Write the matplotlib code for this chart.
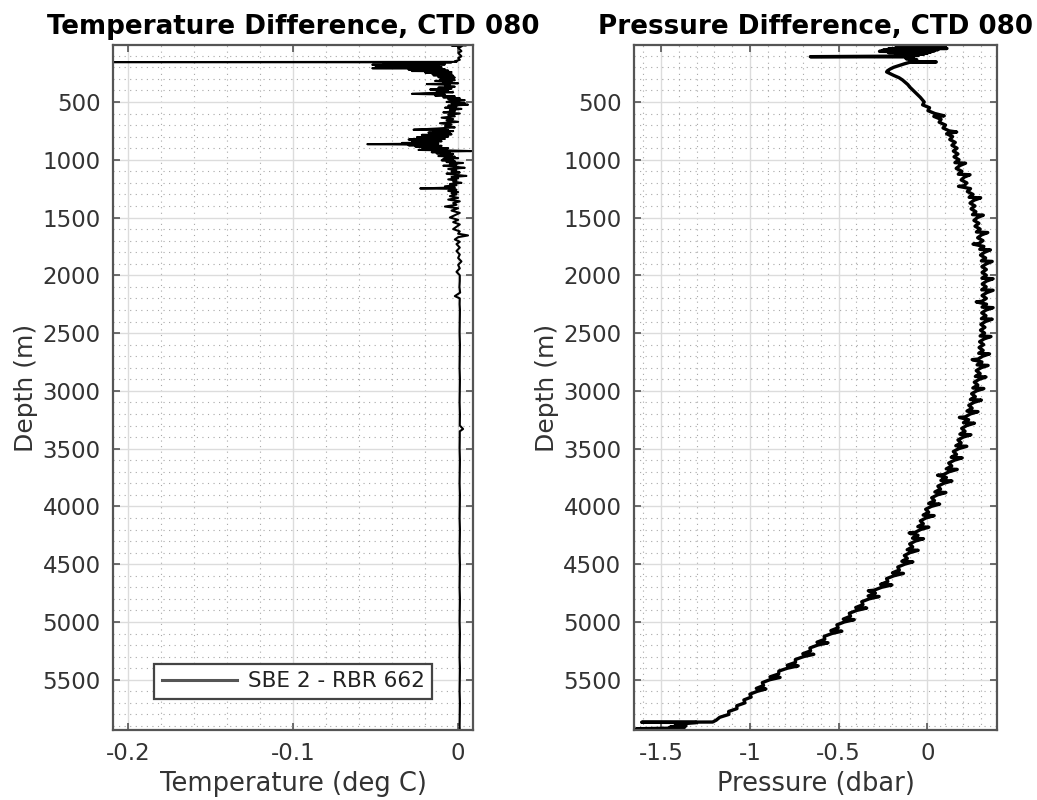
import matplotlib
matplotlib.use("Agg")
import matplotlib.pyplot as plt
from matplotlib.ticker import MultipleLocator, FixedLocator
import numpy as np

plt.rcParams['font.family'] = ['DejaVu Sans']
plt.rcParams['axes.unicode_minus'] = False

# ---------------- Temperature difference (SBE 2 - RBR 662), deg C ----------------
temp_depth = (
    [7, 9, 11, 13, 20, 30, 45, 60, 75, 90, 105, 120, 135, 148, 153, 155, 157]
    + [160, 163, 166, 169, 172, 175, 178, 181, 184, 187, 190, 193, 196, 199, 202, 205,
       208, 211, 214, 217, 220, 223, 226, 229, 232, 235, 238, 241, 245, 249, 253, 257,
       261, 265, 269, 273, 277, 281, 285, 289, 294, 299, 305, 311, 318, 324, 331, 338,
       345, 352, 360, 368, 376, 384, 392, 400, 408, 416, 424, 430, 436, 444, 452, 460,
       468, 476, 484, 492, 500]
    + [508, 516, 524, 532, 540, 550, 560, 570, 580, 590, 600, 612, 624, 636, 648, 660,
       672, 684, 696, 708, 720, 730]
    + [740, 744, 748, 752, 756, 760, 765, 770, 775, 780, 785, 790, 795, 800, 805, 810,
       815, 820, 825, 830, 835, 840, 845, 850, 855, 860, 865, 870, 875, 880, 885, 890,
       895, 900, 905, 910, 915, 920, 925, 930, 935, 940, 945, 950, 956, 962, 968, 974,
       980, 986, 992, 998]
    + [1005, 1012, 1020, 1028, 1036, 1044, 1052, 1060, 1070, 1080, 1090, 1100, 1110,
       1120, 1130, 1140, 1150, 1160, 1170, 1180, 1190, 1200, 1210, 1220, 1230, 1240,
       1248, 1252, 1260, 1270, 1280, 1290, 1300, 1315]
    + [1330, 1345, 1360, 1375, 1390, 1405, 1420, 1440, 1460, 1480, 1500, 1520, 1540,
       1560, 1580, 1600, 1620, 1640, 1655, 1670, 1690, 1710, 1730, 1760, 1790, 1820,
       1850, 1880, 1910, 1940, 1970, 2000]
    + [2050, 2100, 2150, 2180, 2200, 2250, 2300, 2400, 2500, 2600, 2700, 2800, 2900,
       3000, 3100, 3200, 3300, 3330, 3350, 3400, 3500, 3600, 3700, 3800, 3900, 4000,
       4100, 4200, 4300, 4400, 4500, 4600, 4700, 4800, 4900, 5000, 5100, 5200, 5300,
       5400, 5500, 5600, 5700, 5800, 5900, 5935]
)
temp_diff = (
    [0.001, 0.005, -0.004, 0.001, 0.002, 0.000, 0.001, 0.002, 0.000, 0.001, 0.002,
     0.000, 0.001, -0.002, -0.001, -0.209, -0.004]
    + [-0.030, -0.010, -0.045, -0.015, -0.038, -0.008, -0.052, -0.020, -0.030, -0.012,
       -0.050, -0.018, -0.028, -0.010, -0.035, -0.015, -0.052, -0.012, -0.025, -0.008,
       -0.030, -0.015, -0.022, -0.006, -0.028, -0.010, -0.018, -0.004, -0.020, -0.008,
       -0.016, -0.004, -0.013, -0.006, -0.015, -0.003, -0.010, -0.005, -0.012, -0.002,
       -0.009, -0.004, -0.011, -0.002, -0.014, -0.004, -0.009, 0.000, -0.019, -0.005,
       -0.008, -0.002, -0.012, -0.004, -0.017, -0.006, -0.013, -0.003, -0.020, -0.028,
       -0.008, -0.014, -0.002, -0.009, 0.001, -0.006, 0.004, -0.003, -0.007]
    + [0.004, -0.004, 0.006, -0.006, -0.001, -0.008, 0.002, -0.005, -0.002, -0.009,
       0.001, -0.006, -0.002, -0.010, -0.003, -0.007, 0.000, -0.011, -0.004, -0.008,
       -0.002, -0.013]
    + [-0.027, -0.006, -0.015, -0.003, -0.012, -0.005, -0.018, -0.008, -0.014, -0.004,
       -0.022, -0.010, -0.016, -0.006, -0.025, -0.012, -0.018, -0.008, -0.030, -0.014,
       -0.020, -0.010, -0.028, -0.016, -0.034, -0.012, -0.055, -0.020, -0.030, -0.010,
       -0.026, -0.015, -0.022, -0.006, -0.018, -0.010, -0.024, -0.004, 0.008, -0.012,
       -0.016, -0.005, -0.013, -0.003, -0.010, -0.004, -0.012, -0.002, -0.008, 0.000,
       -0.009, -0.003]
    + [-0.010, -0.002, -0.007, 0.003, -0.005, -0.001, -0.009, -0.002, 0.004, -0.006,
       -0.001, -0.004, 0.001, -0.007, -0.002, 0.005, -0.004, 0.000, -0.006, -0.001,
       -0.003, 0.002, -0.005, -0.001, -0.008, -0.002, -0.023, -0.003, -0.001, -0.006,
       0.000, -0.004, -0.001, -0.005]
    + [0.000, -0.006, 0.001, -0.003, -0.001, -0.008, 0.000, -0.004, 0.001, -0.002,
       -0.005, 0.000, -0.003, 0.001, -0.001, -0.003, 0.001, 0.000, 0.006, 0.000,
       -0.002, 0.001, -0.001, 0.001, -0.001, 0.001, 0.000, 0.002, 0.000, 0.001,
       -0.001, 0.001]
    + [0.001, 0.0008, 0.0012, -0.002, 0.001, 0.0009, 0.0011, 0.001, 0.0009, 0.0011,
       0.001, 0.0009, 0.0011, 0.001, 0.0009, 0.0011, 0.001, 0.003, 0.001, 0.001,
       0.0009, 0.0011, 0.001, 0.0009, 0.0011, 0.001, 0.0009, 0.0011, 0.001, 0.0009,
       0.0011, 0.001, 0.0009, 0.0011, 0.001, 0.0009, 0.0011, 0.001, 0.0009, 0.0011,
       0.001, 0.0009, 0.0011, 0.001, 0.0009, 0.001]
)

# ---------------- Pressure difference, dbar ----------------
# near-surface part of the cast
pres_top_depth = [7, 12, 17, 22, 27, 32, 37, 42, 47, 52, 57, 62, 67, 72, 77, 82, 87, 92,
                  97, 103, 108, 110, 118, 126, 134, 142, 150, 154, 157, 170, 185, 200,
                  215, 230, 240, 255, 270, 290, 310, 330, 350, 370, 400, 430, 460]
pres_top_diff = [0.05, -0.05, 0.10, -0.12, 0.08, -0.18, 0.11, -0.22, 0.06, -0.25, 0.04,
                 -0.27, 0.02, -0.22, 0.00, -0.18, -0.02, -0.15, -0.05, -0.12, -0.66,
                 -0.10, -0.08, -0.12, -0.06, -0.10, -0.08, 0.05, -0.10, -0.13, -0.16,
                 -0.19, -0.21, -0.225, -0.23, -0.21, -0.19, -0.16, -0.14, -0.125, -0.11,
                 -0.10, -0.08, -0.06, -0.04]

# 25 m bins from 500 m to 5850 m
pres_bin_depth = np.arange(500, 5851, 25)
pres_bin_diff = [
    -0.018, -0.027, 0.012, 0.003, 0.042, 0.036, 0.077, 0.066, 0.102, 0.088,
    0.122, 0.108, 0.142, 0.126, 0.157, 0.138, 0.167, 0.146, 0.172, 0.150,
    0.178, 0.155, 0.183, 0.162, 0.194, 0.174, 0.208, 0.190, 0.222, 0.207,
    0.243, 0.225, 0.257, 0.235, 0.263, 0.240, 0.268, 0.246, 0.273, 0.254,
    0.282, 0.262, 0.290, 0.268, 0.297, 0.276, 0.305, 0.283, 0.313, 0.290,
    0.318, 0.295, 0.323, 0.299, 0.328, 0.304, 0.333, 0.307, 0.332, 0.308,
    0.332, 0.307, 0.333, 0.309, 0.331, 0.306, 0.334, 0.308, 0.332, 0.307,
    0.333, 0.308, 0.331, 0.306, 0.330, 0.304, 0.327, 0.301, 0.324, 0.299,
    0.322, 0.297, 0.320, 0.294, 0.317, 0.291, 0.314, 0.289, 0.312, 0.285,
    0.307, 0.280, 0.302, 0.275, 0.297, 0.270, 0.292, 0.264, 0.284, 0.256,
    0.277, 0.249, 0.270, 0.242, 0.262, 0.233, 0.252, 0.223, 0.242, 0.213,
    0.232, 0.203, 0.222, 0.193, 0.212, 0.183, 0.202, 0.172, 0.190, 0.160,
    0.177, 0.146, 0.164, 0.134, 0.152, 0.120, 0.137, 0.106, 0.122, 0.090,
    0.107, 0.076, 0.092, 0.059, 0.074, 0.042, 0.057, 0.024, 0.040, 0.007,
    0.022, -0.010, 0.007, -0.024, -0.008, -0.040, -0.023, -0.054, -0.038, -0.070,
    -0.053, -0.084, -0.068, -0.100, -0.083, -0.114, -0.098, -0.130, -0.113, -0.144,
    -0.128, -0.167, -0.158, -0.197, -0.188, -0.230, -0.223, -0.264, -0.258, -0.300,
    -0.293, -0.334, -0.328, -0.370, -0.363, -0.404, -0.398, -0.440, -0.433, -0.474,
    -0.468, -0.510, -0.503, -0.544, -0.538, -0.582, -0.578, -0.622, -0.618, -0.662,
    -0.658, -0.702, -0.698, -0.744, -0.743, -0.790, -0.788, -0.837, -0.838, -0.887,
    -0.888, -0.930, -0.923, -0.964, -0.958, -1.000, -0.993, -1.034, -1.028, -1.074,
    -1.073, -1.120, -1.118, -1.170, -1.190,
]

# single-scan outliers within the profile
pres_spike_depth = [620, 760, 1030, 1130, 1230, 1330, 1480, 1630, 1730, 1780, 1880,
                    2030, 2130, 2230, 2280, 2380, 2530, 2680, 2730, 2780, 2880, 2980,
                    3080, 3180, 3230, 3280, 3380, 3480, 3580, 3680, 3730, 3780, 3880,
                    3980, 4080, 4180, 4230, 4280, 4380, 4480, 4580, 4680, 4730, 4780,
                    4880, 4980, 5080, 5180, 5280, 5380, 5480, 5580]
pres_spike_diff = [0.095, 0.165, 0.215, 0.24, 0.175, 0.30, 0.315, 0.34, 0.257, 0.355,
                   0.365, 0.37, 0.37, 0.275, 0.37, 0.365, 0.358, 0.35, 0.252, 0.342,
                   0.33, 0.318, 0.304, 0.285, 0.18, 0.265, 0.245, 0.222, 0.196, 0.168,
                   0.057, 0.138, 0.104, 0.069, 0.038, 0.008, -0.103, -0.022, -0.052,
                   -0.082, -0.135, -0.20, -0.333, -0.272, -0.342, -0.412, -0.482,
                   -0.56, -0.64, -0.728, -0.83, -0.91]

# bottom of the cast
pres_bottom_depth = [5866, 5868, 5870, 5880, 5890, 5900, 5910, 5918, 5924, 5928, 5930,
                     5932, 5934]
pres_bottom_diff = [-1.21, -1.61, -1.30, -1.38, -1.42, -1.36, -1.45, -1.38, -1.64,
                    -1.40, -1.37, -1.55, -1.40]

series_label = 'SBE 2 - RBR 662'
titles = ['Temperature Difference, CTD 080', 'Pressure Difference, CTD 080']
xlabels = ['Temperature (deg C)', 'Pressure (dbar)']
ylabel = 'Depth (m)'
temp_xticks = [-0.2, -0.1, 0]
temp_xticklabels = ['-0.2', '-0.1', '0']
pres_xticks = [-1.5, -1, -0.5, 0]
pres_xticklabels = ['-1.5', '-1', '-0.5', '0']
depth_ticks = list(range(500, 6000, 500))

assert len(temp_depth) == len(temp_diff)
assert len(pres_bin_depth) == len(pres_bin_diff)
assert len(pres_spike_depth) == len(pres_spike_diff)

# assemble the full pressure profile in depth order
p_depth = np.concatenate([pres_top_depth, pres_bin_depth, pres_spike_depth,
                          pres_bottom_depth]).astype(float)
p_diff = np.concatenate([pres_top_diff, pres_bin_diff, pres_spike_diff,
                         pres_bottom_diff]).astype(float)
order = np.argsort(p_depth, kind='stable')
p_depth, p_diff = p_depth[order], p_diff[order]

fig = plt.figure(figsize=(10.37, 8.0), dpi=100)
ax1 = fig.add_axes([113 / 1037, 1 - 730 / 800, 360 / 1037, 685 / 800])
ax2 = fig.add_axes([634 / 1037, 1 - 730 / 800, 363 / 1037, 685 / 800])

text_col = '#333333'
spine_col = '#555555'


def style(ax, xticks, xticklabels, xminor, title, xlabel):
    ax.set_ylim(5935, 7)
    ax.yaxis.set_major_locator(FixedLocator(depth_ticks))
    ax.yaxis.set_minor_locator(MultipleLocator(100))
    ax.set_xticks(xticks)
    ax.set_xticklabels(xticklabels)
    ax.xaxis.set_minor_locator(MultipleLocator(xminor))
    ax.grid(which='major', color='#dcdcdc', linewidth=1.0, linestyle='-')
    ax.grid(which='minor', color='#a8a8a8', linewidth=0.8, linestyle=(0, (1, 4)))
    ax.set_axisbelow(True)
    ax.tick_params(which='major', direction='in', top=True, right=True, length=5,
                   width=1.2, color=spine_col, labelsize=16.5, labelcolor=text_col,
                   pad=9)
    ax.tick_params(which='minor', length=0)
    for s in ax.spines.values():
        s.set_color(spine_col)
        s.set_linewidth(1.6)
    ax.set_title(title, fontsize=18.8, fontweight='bold', color='black', pad=8)
    ax.set_xlabel(xlabel, fontsize=18.5, color=text_col, labelpad=4)
    ax.set_ylabel(ylabel, fontsize=18, color=text_col, labelpad=3)


ax1.plot(temp_diff, temp_depth, color='black', linewidth=1.5, label=series_label)
ax1.set_xlim(min(temp_diff), 0.009)
style(ax1, temp_xticks, temp_xticklabels, 0.02, titles[0], xlabels[0])
leg = ax1.legend(loc='lower center', bbox_to_anchor=(0.5, 0.03), fontsize=15.5,
                 fancybox=False, framealpha=1, edgecolor='#444444', handlelength=3.5,
                 borderpad=0.35, handletextpad=0.5)
leg.get_frame().set_linewidth(1.6)
for line in leg.get_lines():
    line.set_color('#555555')
    line.set_linewidth(2.2)
for t in leg.get_texts():
    t.set_color('#222222')

ax2.plot(p_diff, p_depth, color='black', linewidth=2.4)
ax2.set_xlim(-1.653, 0.392)
style(ax2, pres_xticks, pres_xticklabels, 0.1, titles[1], xlabels[1])

fig.savefig('out.png', dpi=100)
